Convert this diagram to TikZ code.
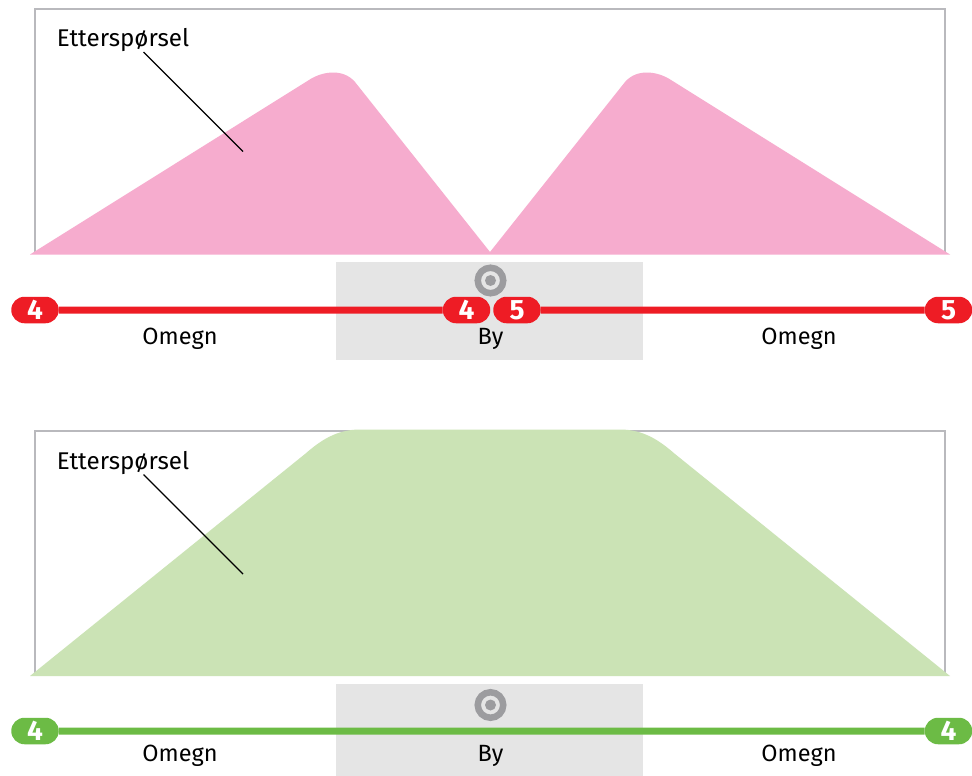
\documentclass[tikz,border=0pt]{standalone}
\usepackage{fontspec}
\setmainfont{Fira Sans}
\usetikzlibrary{shapes.misc}
\definecolor{framegrey}{HTML}{B9B9BD}
\definecolor{zonegrey}{HTML}{E5E5E5}
\definecolor{targetgrey}{HTML}{9C9C9F}
\definecolor{linered}{HTML}{EE1C25}
\definecolor{linegreen}{HTML}{6CBB45}
\definecolor{fillpink}{HTML}{F6ACCE}
\definecolor{fillgreen}{HTML}{CBE3B5}
\tikzset{
  px/.style={x=1pt,y=-1pt},
  frame/.style={draw=framegrey,line width=2pt},
  zone/.style={fill=zonegrey,draw=none},
  label/.style={font=\fontsize{23.5}{26}\selectfont,text=black,inner sep=0pt},
  titlelabel/.style={font=\fontsize{24.2}{26}\selectfont,text=black,inner sep=0pt},
  badge/.style={rounded rectangle,minimum width=47.5pt,minimum height=26.5pt,inner sep=0pt,
     text=white,font=\fontsize{28}{30}\selectfont\bfseries},
  leader/.style={draw=black,line width=1.4pt},
  route/.style={line width=7pt},
  targetring/.style={circle,draw=targetgrey,line width=6.5pt,minimum size=25.5pt,inner sep=0pt},
  targetdot/.style={circle,fill=targetgrey,minimum size=11pt,inner sep=0pt},
}
\begin{document}
\begin{tikzpicture}[px]
\useasboundingbox (0,0) rectangle (972,776);
\fill[white] (0,0) rectangle (972,776);
% upper panel
\draw[frame] (945,254) -- (945,9.5) -- (34.5,9.5) -- (34.5,254);
\fill[fillpink] (30,254.5) -- (309,80) .. controls (320,72.5) and (342,67) .. (355,82)
  -- (490,252) -- (625,82) .. controls (638,67) and (660,72.5) .. (671,80) -- (950,254.5) -- cycle;
\fill[zone] (336,262) rectangle (643,360);
\node[targetring] (t1) at (490.5,280.5) {};
\node[targetdot] (d1) at (490.5,280.5) {};
\node[badge,fill=linered] (a1) at (35,310) {4};
\node[badge,fill=linered] (a2) at (466.5,310) {4};
\node[badge,fill=linered] (a3) at (517,310) {5};
\node[badge,fill=linered] (a4) at (948.5,310) {5};
\draw[route,draw=linered] (a1) -- (a2);
\draw[route,draw=linered] (a3) -- (a4);
\node[titlelabel] (e1) at (123,40) {Etterspørsel};
\coordinate (p1s) at (143.5,52);
\coordinate (p1e) at (243,151.5);
\draw[leader] (p1s) -- (p1e);
\node[label] (o1) at (180,339) {Omegn};
\node[label] (b1) at (490.5,339) {By};
\node[label] (o2) at (799,339) {Omegn};
% lower panel
\draw[frame] (945,675) -- (945,431) -- (34.5,431) -- (34.5,675);
\fill[fillgreen] (30,676) -- (305,454) .. controls (320,441) and (336,429.5) .. (360,429.5)
  -- (620,429.5) .. controls (644,429.5) and (660,441) .. (675,454) -- (950,676) -- cycle;
\fill[zone] (336,684) rectangle (643,776);
\node[targetring] (t2) at (490.5,705) {};
\node[targetdot] (d2) at (490.5,705) {};
\node[badge,fill=linegreen] (g1) at (35,731) {4};
\node[badge,fill=linegreen] (g2) at (948.5,731) {4};
\draw[route,draw=linegreen] (g1) -- (g2);
\node[titlelabel] (e2) at (123,463) {Etterspørsel};
\coordinate (p2s) at (143.5,474.5);
\coordinate (p2e) at (243,574);
\draw[leader] (p2s) -- (p2e);
\node[label] (o3) at (180,756) {Omegn};
\node[label] (b2) at (490.5,756) {By};
\node[label] (o4) at (799,756) {Omegn};
\end{tikzpicture}
\end{document}
